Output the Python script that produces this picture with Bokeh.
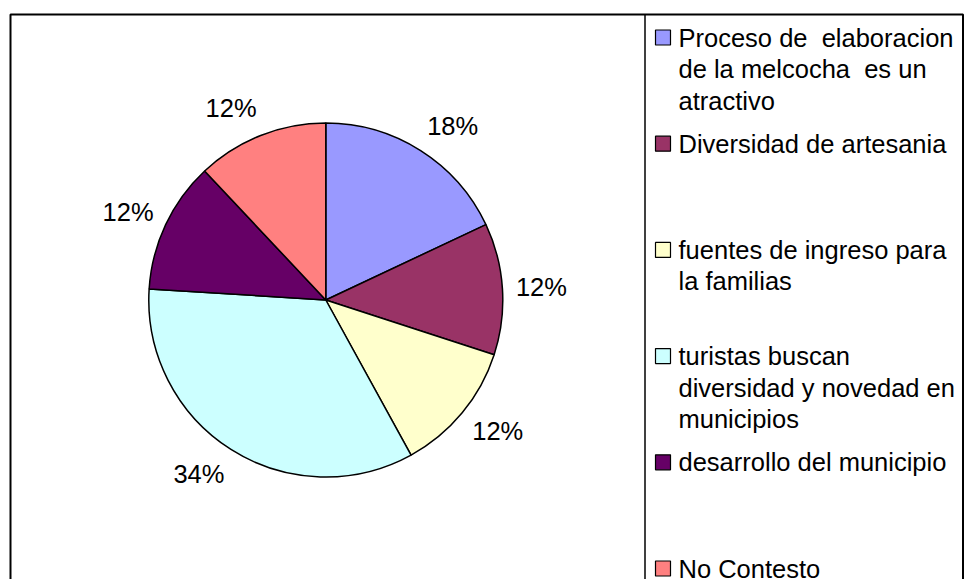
import math
from bokeh.plotting import figure
from bokeh.models import Range1d, ColumnDataSource
from bokeh.core.properties import value
from bokeh.embed import file_html
from bokeh.resources import INLINE

# ---- data ----
categories = [
    "Proceso de  elaboracion de la melcocha  es un atractivo",
    "Diversidad de artesania",
    "fuentes de ingreso para la familias",
    "turistas buscan diversidad y novedad en municipios",
    "desarrollo del municipio",
    "No Contesto",
]
legend_lines = [
    ["Proceso de \u00a0elaboracion", "de la melcocha \u00a0es un", "atractivo"],
    ["Diversidad de artesania"],
    ["fuentes de ingreso para", "la familias"],
    ["turistas buscan", "diversidad y novedad en", "municipios"],
    ["desarrollo del municipio"],
    ["No Contesto"],
]
percentages = [18, 12, 12, 34, 12, 12]
pct_labels = ["18%", "12%", "12%", "34%", "12%", "12%"]
colors = ["#9999FF", "#993366", "#FFFFCC", "#CCFFFF", "#660066", "#FF8080"]

# ---- layout (picture pixel coordinates -> data coords, y flipped) ----
W, H = 964, 579
def Y(py):
    return H - py

FONT = "Liberation Sans"
FS = "25.5px"
cx, cy = 325.3, Y(299.5)
R = 177
LABEL_R0 = 192
HALF_W, HALF_H = 24, 14

p = figure(width=W, height=H, output_backend="svg", toolbar_location=None,
           x_range=Range1d(0, W), y_range=Range1d(0, H),
           x_axis_type=None, y_axis_type=None, min_border=0,
           outline_line_color=None, background_fill_color="white",
           border_fill_color="white")
p.grid.visible = False

# outer chart frame (bottom cut off as in reference)
p.line([10, 10, 962.5, 962.5], [Y(700), Y(14), Y(14), Y(700)],
       line_color="black", line_width=2)
# legend box left edge
p.line([644.5, 644.5], [Y(14), Y(700)], line_color="black", line_width=1.5)

# ---- pie ----
total = sum(percentages)
starts, ends, mids = [], [], []
acc = 0.0
for v in percentages:
    a0 = acc / total * 2 * math.pi
    acc += v
    a1 = acc / total * 2 * math.pi
    # clockwise from 12 o'clock
    starts.append(math.pi / 2 - a1)
    ends.append(math.pi / 2 - a0)
    mids.append((a0 + a1) / 2)

src = ColumnDataSource(dict(start=starts, end=ends, color=colors,
                            cat=categories))
p.wedge(x=cx, y=cy, radius=R, start_angle="start", end_angle="end",
        fill_color="color", line_color="black", line_width=1.5, source=src)

# label: anchor just outside the pie, label box pushed outward
lx, ly = [], []
for m in mids:
    ux, uy = math.sin(m), math.cos(m)
    lx.append(cx + LABEL_R0 * ux + math.copysign(HALF_W, ux))
    ly.append(cy + LABEL_R0 * uy + HALF_H * uy)
p.text(x=lx, y=ly, text=pct_labels, text_font=value(FONT),
       text_font_size=FS, text_align="center", text_baseline="middle",
       text_color="black")

# ---- legend ----
sq_x, sq_size = 662.5, 15
text_x = 678
first_c, step, line_h = 37, 106.2, 31.5
sq_ys, tx, ty, tt = [], [], [], []
for i, lines in enumerate(legend_lines):
    c = first_c + i * step
    sq_ys.append(Y(c))
    for j, ln in enumerate(lines):
        tx.append(text_x)
        ty.append(Y(c + j * line_h))
        tt.append(ln)
p.rect(x=[sq_x] * len(sq_ys), y=sq_ys, width=sq_size, height=sq_size,
       fill_color=colors, line_color="black", line_width=1.2)
p.text(x=tx, y=ty, text=tt, text_font=value(FONT), text_font_size=FS,
       text_align="left", text_baseline="middle", text_color="black")

open("out.html", "w").write(file_html(p, INLINE))
